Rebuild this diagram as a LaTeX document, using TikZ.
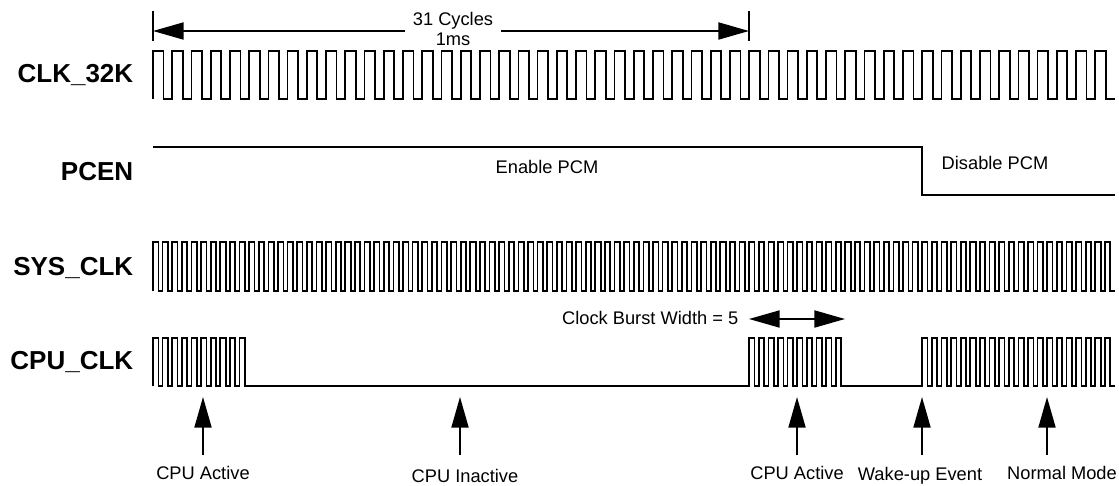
\documentclass[tikz,border=0pt]{standalone}
\usepackage{fontspec}
\setmainfont{Liberation Sans}
\usetikzlibrary{arrows.meta,positioning}
\tikzset{
  wave/.style={line width=1.3pt, line join=miter, color=black},
  sig/.style={font=\fontsize{19.5}{22}\selectfont\bfseries, anchor=east, inner sep=0pt},
  lbl/.style={font=\fontsize{13.7}{14.5}\selectfont, align=center, inner sep=0pt},
  arr/.style={-{Triangle[length=23pt, width=12.8pt]}, line width=1.3pt},
  arr2/.style={{Triangle[length=23pt, width=12.8pt]}-{Triangle[length=23pt, width=12.8pt]}, line width=1.3pt},
  tick/.style={line width=1.3pt},
}
\begin{document}
\begin{tikzpicture}[x=0.75pt, y=-0.75pt]
    \useasboundingbox (0,0) rectangle (1119,485);
    % signal names
    \node[sig] (n1) at (133.5,75) {CLK\_32K};
    \node[sig] (n2) at (133.5,172) {PCEN};
    \node[sig] (n3) at (133.5,268) {SYS\_CLK};
    \node[sig] (n4) at (133.5,362) {CPU\_CLK};
    % waves
    \draw[wave] (153,99) \foreach \k in {0,...,49} {
      -- ({153+\k*19.23},51) -- ({163.5+\k*19.23},51) -- ({163.5+\k*19.23},99) -- ({172.23+\k*19.23},99)};
    \draw[wave] (153,147) -- (922,147) -- (922,195) -- (1115,195);
    \draw[wave] (153,291) \foreach \k in {0,...,99} {
      -- ({153+\k*9.615},242) -- ({158.4+\k*9.615},242) -- ({158.4+\k*9.615},291) -- ({162.615+\k*9.615},291)};
    \draw[wave] (153,386) \foreach \k in {0,...,9,62,63,...,71,80,81,...,99} {
      -- ({153+\k*9.615},386) -- ({153+\k*9.615},338) -- ({158.4+\k*9.615},338) -- ({158.4+\k*9.615},386)} -- (1115,386);
    % 31 cycles
    \coordinate (tl) at (153,31);
    \coordinate (tr) at (749,31);
    \draw[tick] (153,11) -- (153,41);
    \draw[tick] (749,11) -- (749,41);
    \node[lbl, minimum width=71.25pt] (cyc) at (453,29) {31 Cycles\\1ms};
    \draw[arr] (cyc.west |- tl) -- (tl);
    \draw[arr] (cyc.east |- tr) -- (tr);
    % burst width
    \coordinate (bl) at (749,319);
    \coordinate (br) at (845,319);
    \draw[arr2] (bl) -- (br);
    \node[lbl, anchor=east] (bw) at (738.5,318) {Clock Burst Width = 5};
    % events
    \foreach \i/\x/\lx/\t/\ty in {a/203/203/CPU Active/473,b/460/465/CPU Inactive/476,c/797/797/CPU Active/473,d/922/920/Wake-up Event/476,e/1047/1062/Normal Mode/473} {
      \node[lbl] (ev\i) at (\lx,\ty) {\t};
      \coordinate (tl\i) at (\x,455);
      \coordinate (tp\i) at (\x,397);
      \draw[arr] (tl\i) -- (tp\i);
    }
    % pcm
    \node[lbl] (en) at (547,167) {Enable PCM};
    \node[lbl] (dis) at (995,163) {Disable PCM};
\end{tikzpicture}
\end{document}
